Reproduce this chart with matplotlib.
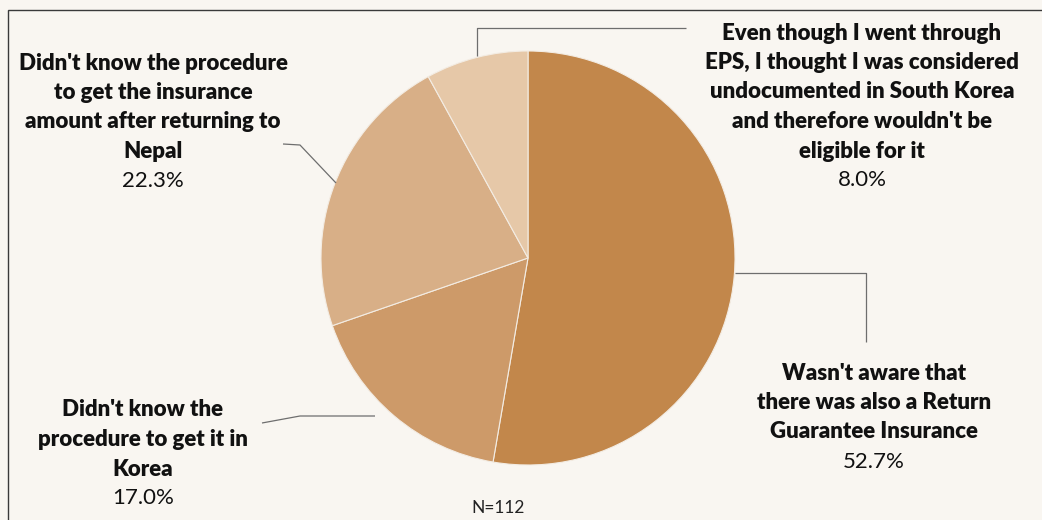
import matplotlib.pyplot as plt
from matplotlib.patches import Rectangle

labels = [
    "Wasn't aware that\nthere was also a Return\nGuarantee Insurance",
    "Didn't know the\nprocedure to get it in\nKorea",
    "Didn't know the procedure\nto get the insurance\namount after returning to\nNepal",
    "Even though I went through\nEPS, I thought I was considered\nundocumented in South Korea\nand therefore wouldn't be\neligible for it",
]
shares = [52.7, 17.0, 22.3, 8.0]
colors = ["#C2874B", "#CD9A69", "#D8AF87", "#E6C8A8"]
sample_note = "N=112"

W, H = 1042, 520
bg = "#F9F6F1"
font = ["Lato", "DejaVu Sans"]

fig = plt.figure(figsize=(W / 100, H / 100), dpi=100, facecolor=bg)
ax = fig.add_axes([0, 0, 1, 1])

cx, cy, r = 528, 262, 207
ax.pie(shares, colors=colors, startangle=90, counterclock=False,
       center=(cx, cy), radius=r, frame=True,
       wedgeprops=dict(edgecolor="#F3ECE3", linewidth=0.8))
ax.set_xlim(0, W)
ax.set_ylim(0, H)
ax.set_aspect("equal")
ax.axis("off")

# outer frame (runs off the right and bottom edges)
ax.add_patch(Rectangle((8, -20), W + 50, H - 10 + 20, fill=False,
                       edgecolor="#3a3a3a", linewidth=1.0))

lc = "#6e6e6e"
# leader lines (pixel layout, y measured from bottom)
leaders = [
    [(735, H - 273), (866, H - 273), (866, H - 342)],
    [(375, H - 416), (300, H - 416), (262, H - 423)],
    [(336, H - 183), (300, H - 145), (283, H - 144)],
    [(477, H - 56), (477, H - 28), (686, H - 28)],
]
for pts in leaders:
    xs, ys = zip(*pts)
    ax.plot(xs, ys, color=lc, linewidth=0.9, solid_capstyle="butt")

# label anchors: centre x and y of the first line
anchors = [(874, H - 373), (143, H - 410), (153, H - 63), (862, H - 33)]
step = 29.5
fs = 16
for lab, val, (x, y) in zip(labels, shares, anchors):
    lines = lab.split("\n")
    for i, ln in enumerate(lines):
        ax.text(x, y - i * step, ln, ha="center", va="center",
                fontsize=fs, fontweight="heavy", family=font, color="#111111")
    ax.text(x, y - len(lines) * step, f"{val:.1f}%", ha="center",
            va="center", fontsize=fs, family=font, color="#111111")

ax.text(498, H - 508, sample_note, ha="center", va="center",
        fontsize=12.5, family=font, color="#222222")

fig.savefig("out.png", dpi=100, facecolor=bg)
